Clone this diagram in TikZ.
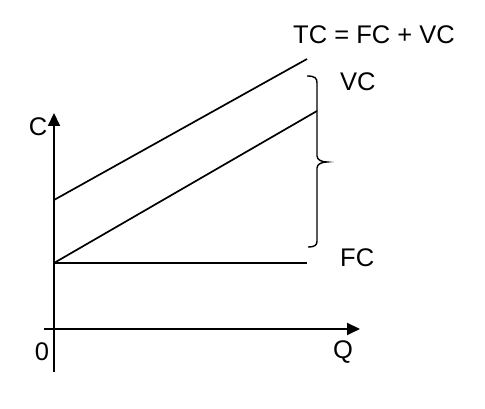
\documentclass[tikz,border=0pt]{standalone}
\usepackage{fontspec}
\setmainfont{Liberation Sans}
\usetikzlibrary{arrows.meta}
\begin{document}
\begin{tikzpicture}[x=1pt,y=1pt,
  axis/.style={line width=2pt,-{Triangle[length=13pt,width=12pt]}},
  curve/.style={line width=1.7pt},
  lbl/.style={font=\fontsize{25.5}{30}\selectfont,inner sep=0pt},
  bracestyle/.style={line width=1.4pt}]
\useasboundingbox (0,0) rectangle (485,409);
% axes
\coordinate (ybot) at (54,37);
\coordinate (ytop) at (54,296);
\coordinate (xleft) at (44,80);
\coordinate (xright) at (360,80);
\draw[axis] (ybot) -- (ytop);
\draw[axis] (xleft) -- (xright);
% curves
\coordinate (fc0) at (54,146);
\coordinate (fc1) at (307,146);
\coordinate (tc0) at (54,209);
\coordinate (tc1) at (307,350);
\coordinate (vc1) at (317,298);
\draw[curve] (fc0) -- (fc1);
\draw[curve] (tc0) -- (tc1);
\draw[curve] (fc0) -- (vc1);
% brace
\coordinate (btop) at (307,333);
\coordinate (btip) at (327,247);
\coordinate (bbot) at (308,162);
\draw[bracestyle] (btop) .. controls (315,333) and (317,331) .. (317,326)
  -- (317,253) .. controls (317,249) and (322,247) .. (btip)
  .. controls (322,247) and (317,245) .. (317,241)
  -- (317,168) .. controls (317,164) and (315,162) .. (bbot);
% labels
\node[lbl] (tclbl) at (374,374) {TC = FC + VC};
\node[lbl,anchor=west] (vclbl) at (340,327) {VC};
\node[lbl,anchor=west] (fclbl) at (340,151) {FC};
\node[lbl] (clbl) at (38,282) {C};
\node[lbl] (zlbl) at (42,57) {0};
\node[lbl] (qlbl) at (343,57) {Q};
\end{tikzpicture}
\end{document}
